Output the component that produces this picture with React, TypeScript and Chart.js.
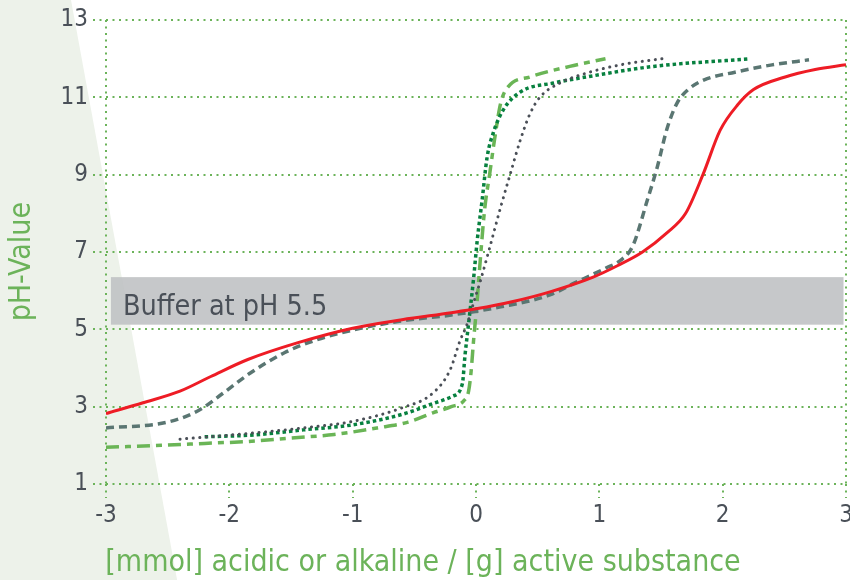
import React, { useEffect, useRef } from "react";
import { Chart, registerables } from "chart.js";

Chart.register(...registerables);

// ---------- data ----------
const xTickValues = [-3, -2, -1, 0, 1, 2, 3];
const yTickValues = [1, 3, 5, 7, 9, 11, 13];

const xTitle = "[mmol] acidic or alkaline / [g] active substance";
const yTitle = "pH-Value";

const bufferLabel = "Buffer at pH 5.5";
const bufferFromX = -2.96;
const bufferToX = 2.98;
const bufferLowPH = 5.12;
const bufferHighPH = 6.35;

const redX = [-3, -2.7, -2.4, -2.15, -1.85, -1.45, -1.0, -0.6, -0.2, 0, 0.3, 0.6, 0.95, 1.15, 1.35, 1.55, 1.7, 1.84, 1.98, 2.12, 2.25, 2.5, 2.75, 3.0];
const redY = [2.82, 3.1, 3.4, 3.78, 4.22, 4.65, 5.03, 5.25, 5.43, 5.53, 5.72, 5.97, 6.35, 6.65, 7.0, 7.5, 8.0, 9.0, 10.15, 10.8, 11.2, 11.52, 11.72, 11.84];

const slateX = [-3, -2.5, -2.25, -2.05, -1.83, -1.55, -1.3, -1.0, -0.6, -0.2, 0.2, 0.6, 0.8, 1.05, 1.17, 1.27, 1.39, 1.47, 1.55, 1.63, 1.72, 1.85, 2.1, 2.4, 2.7];
const slateY = [2.45, 2.6, 2.9, 3.35, 3.87, 4.4, 4.72, 4.98, 5.22, 5.37, 5.58, 5.89, 6.2, 6.58, 6.78, 7.15, 8.35, 9.2, 10.2, 10.85, 11.2, 11.45, 11.65, 11.84, 11.97];

const lightGreenX = [-3, -2.55, -2.2, -1.85, -1.5, -1.15, -0.8, -0.55, -0.35, -0.2, -0.1, -0.06, -0.04, -0.02, 0.01, 0.03, 0.07, 0.11, 0.15, 0.2, 0.26, 0.44, 0.76, 1.05];
const lightGreenY = [1.95, 2.0, 2.05, 2.1, 2.19, 2.28, 2.45, 2.6, 2.84, 3.0, 3.15, 3.4, 3.9, 4.7, 5.76, 6.6, 8.1, 9.0, 9.9, 10.85, 11.27, 11.53, 11.8, 12.0];

const darkGreenX = [-2.2, -1.8, -1.4, -1.0, -0.6, -0.35, -0.19, -0.11, -0.09, -0.06, -0.02, 0.01, 0.05, 0.09, 0.14, 0.22, 0.36, 0.63, 0.9, 1.44, 2.2];
const darkGreenY = [2.22, 2.27, 2.4, 2.53, 2.8, 3.08, 3.27, 3.6, 4.3, 5.15, 6.3, 7.3, 8.35, 9.45, 10.08, 10.67, 11.14, 11.37, 11.53, 11.8, 11.99];

const grayX = [-2.4, -1.8, -1.4, -1.0, -0.6, -0.35, -0.21, -0.13, -0.07, -0.02, 0.04, 0.11, 0.2, 0.28, 0.36, 0.44, 0.52, 0.68, 0.9, 1.17, 1.51];
const grayY = [2.16, 2.32, 2.45, 2.62, 2.97, 3.35, 3.95, 4.7, 5.15, 5.68, 6.3, 7.1, 8.16, 9.04, 9.9, 10.59, 11.01, 11.37, 11.63, 11.84, 12.0];

// ---------- styles ----------
const GREEN = "#6cb35a";
const TEXT = "#4a5058";
const FONT = "'DejaVu Sans Condensed', 'Liberation Sans Narrow', sans-serif";

const pts = (xs: number[], ys: number[]) => xs.map((x, i) => ({ x, y: ys[i] }));

const decorPlugin = {
  id: "decor",
  beforeDraw(chart: any) {
    const { ctx, height } = chart;
    ctx.save();
    ctx.fillStyle = "#edf2ea";
    ctx.beginPath();
    ctx.moveTo(0, 0);
    ctx.lineTo(71, 0);
    ctx.lineTo(71 + 0.183 * height, height);
    ctx.lineTo(0, height);
    ctx.closePath();
    ctx.fill();
    ctx.restore();
  },
  beforeDatasetsDraw(chart: any) {
    const { ctx, scales } = chart;
    const x0 = scales.x.getPixelForValue(bufferFromX);
    const x1 = scales.x.getPixelForValue(bufferToX);
    const yTop = scales.y.getPixelForValue(bufferHighPH);
    const yBot = scales.y.getPixelForValue(bufferLowPH);
    ctx.save();
    ctx.fillStyle = "rgba(190,192,195,0.88)";
    ctx.fillRect(x0, yTop, x1 - x0, yBot - yTop);
    ctx.fillStyle = TEXT;
    ctx.font = `28.5px ${FONT}`;
    ctx.textBaseline = "alphabetic";
    ctx.textAlign = "left";
    ctx.fillText(bufferLabel, x0 + 12, yBot - 10);
    ctx.restore();
  },
  afterDraw(chart: any) {
    const { ctx, scales } = chart;
    const cy = (scales.y.getPixelForValue(5) + scales.y.getPixelForValue(7)) / 2 - 29;
    ctx.save();
    ctx.translate(22, cy);
    ctx.rotate(-Math.PI / 2);
    ctx.fillStyle = GREEN;
    ctx.font = `30px ${FONT}`;
    ctx.textAlign = "center";
    ctx.textBaseline = "middle";
    ctx.fillText(yTitle, 0, 0);
    ctx.restore();
  },
};

export default function App() {
  const ref = useRef<HTMLCanvasElement | null>(null);

  useEffect(() => {
    if (!ref.current) return;
    const chart = new Chart(ref.current, {
      type: "line",
      data: {
        datasets: [
          {
            label: "red",
            data: pts(redX, redY),
            borderColor: "#ee1c25",
            borderWidth: 3,
            pointRadius: 0,
            cubicInterpolationMode: "monotone",
          },
          {
            label: "slate",
            data: pts(slateX, slateY),
            borderColor: "#5a7672",
            borderWidth: 3.5,
            borderDash: [8, 5],
            pointRadius: 0,
            cubicInterpolationMode: "monotone",
          },
          {
            label: "gray",
            data: pts(grayX, grayY),
            borderColor: "#4a4f57",
            borderWidth: 3,
            borderDash: [0.1, 6.5],
            borderCapStyle: "round",
            pointRadius: 0,
            cubicInterpolationMode: "monotone",
          },
          {
            label: "darkgreen",
            data: pts(darkGreenX, darkGreenY),
            borderColor: "#07813f",
            borderWidth: 3.5,
            borderDash: [3.5, 3],
            pointRadius: 0,
            cubicInterpolationMode: "monotone",
          },
          {
            label: "lightgreen",
            data: pts(lightGreenX, lightGreenY),
            borderColor: "#6ab556",
            borderWidth: 3.5,
            borderDash: [13, 6, 6, 6],
            pointRadius: 0,
            cubicInterpolationMode: "monotone",
          },
        ],
      },
      options: {
        animation: false,
        responsive: false,
        devicePixelRatio: 1,
        layout: { padding: { top: 20, right: 4, left: 0, bottom: 0 } },
        plugins: {
          legend: { display: false },
          tooltip: { enabled: false },
          title: {
            display: true,
            position: "bottom",
            text: xTitle,
            color: GREEN,
            font: { family: FONT, size: 30, weight: "normal", lineHeight: 1 },
            padding: { top: 0, bottom: 2 },
          },
        },
        scales: {
          x: {
            type: "linear",
            min: -3,
            max: 3,
            afterBuildTicks: (s: any) => {
              s.ticks = xTickValues.map((v) => ({ value: v }));
            },
            afterFit: (s: any) => {
              s.height = 64;
              s.paddingLeft = 0;
              s.paddingRight = 0;
            },
            border: { display: false, dash: [2, 4.5] },
            grid: {
              color: (c: any) =>
                c.tick && (c.tick.value === -3 || c.tick.value === 3) ? GREEN : "rgba(0,0,0,0)",
              tickColor: GREEN,
              lineWidth: 2,
              tickWidth: 2,
              tickLength: 14,
              tickBorderDash: [2, 4.5],
            },
            ticks: {
              color: TEXT,
              font: { family: FONT, size: 24 },
              padding: 3,
              maxRotation: 0,
              callback: (v: any) => String(v),
            },
          },
          y: {
            type: "linear",
            min: 1,
            max: 13,
            afterBuildTicks: (s: any) => {
              s.ticks = yTickValues.map((v) => ({ value: v }));
            },
            afterFit: (s: any) => {
              s.width = 106;
              s.paddingTop = 0;
              s.paddingBottom = 0;
            },
            border: { display: false, dash: [2, 4.5] },
            grid: {
              color: GREEN,
              tickColor: GREEN,
              lineWidth: 2,
              tickWidth: 2,
              tickLength: 13,
              tickBorderDash: [2, 4.5],
            },
            ticks: {
              color: TEXT,
              font: { family: FONT, size: 24 },
              padding: 5,
              callback: (v: any) => String(v),
            },
          },
        },
      },
      plugins: [decorPlugin],
    } as any);
    return () => chart.destroy();
  }, []);

  return (
    <div style={{ position: "fixed", left: 0, top: 0, width: 850, height: 580, background: "#fff" }}>
      <canvas ref={ref} width={850} height={580} style={{ width: 850, height: 580, display: "block" }} />
    </div>
  );
}
